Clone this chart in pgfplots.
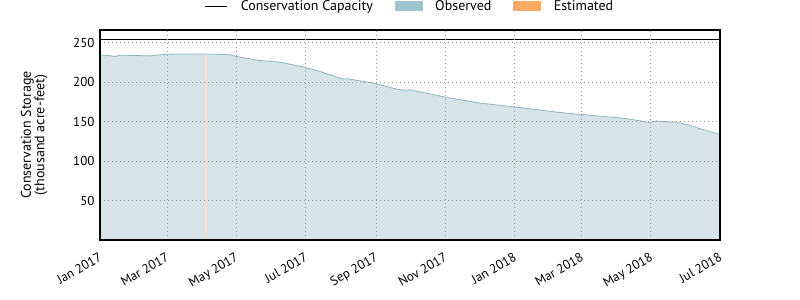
\documentclass[border=0pt]{standalone}
\usepackage{pgfplots}
\pgfplotsset{compat=1.18}
\usepackage{fontspec}
\setmainfont{PT Sans}
\definecolor{obsfill}{RGB}{214,228,232}
\definecolor{obsline}{RGB}{145,180,188}
\definecolor{obsleg}{RGB}{155,196,204}
\definecolor{estleg}{RGB}{255,170,100}
\definecolor{estfill}{RGB}{245,224,206}
\definecolor{gridc}{RGB}{150,160,165}
\begin{document}
\fontsize{13bp}{15bp}\selectfont
\begin{tikzpicture}
\useasboundingbox (0,0) rectangle (800bp,300bp);
\begin{axis}[
  at={(100bp,60bp)}, anchor=south west,
  scale only axis, width=620bp, height=210bp,
  xmin=0, xmax=546, ymin=0, ymax=266,
  xtick={0,59,120,181,243,304,365,424,485,546},
  xticklabels={Jan 2017,Mar 2017,May 2017,Jul 2017,Sep 2017,Nov 2017,Jan 2018,Mar 2018,May 2018,Jul 2018},
  ytick={50,100,150,200,250},
  major tick length=0pt,
  /pgf/number format/assume math mode=true,
  x tick label style={rotate=30, anchor=north east, font=\fontsize{13bp}{15bp}\selectfont, xshift=-3bp, yshift=-5bp},
  y tick label style={font=\fontsize{13bp}{15bp}\selectfont, xshift=-1bp},
  grid=major,
  grid style={gridc, line width=0.8bp, dash pattern=on 1bp off 3bp},
  axis line style={black, line width=1.4bp},
  axis on top,
  ylabel={Conservation Storage\\(thousand acre-feet)},
  ylabel style={at={(axis description cs:-0.106,0.5)}, anchor=center, align=center, font=\fontsize{14bp}{13.5bp}\selectfont},
  legend columns=3,
  legend style={at={(axis description cs:0.5,1.114)}, anchor=center, draw=none, fill=none,
    font=\fontsize{14bp}{16bp}\selectfont,
    /tikz/every odd column/.append style={column sep=11bp},
    /tikz/every even column/.append style={column sep=20bp}},
]
\addlegendimage{legend image code/.code={\draw[black, line width=1bp] (0bp,0bp) -- (22bp,0bp);}}
\addlegendentry{Conservation Capacity}
\addlegendimage{legend image code/.code={\fill[obsleg] (0bp,-4.5bp) rectangle (27bp,4.5bp);}}
\addlegendentry{Observed}
\addlegendimage{legend image code/.code={\fill[estleg] (0bp,-4.5bp) rectangle (27bp,4.5bp);}}
\addlegendentry{Estimated}

\addplot[forget plot, fill=obsfill, draw=obsline, line width=0.8bp] coordinates {
(0,234.5) (8,233.5) (14,232.5) (17,234) (30,233.8) (44,233.2) (59,235.3) (70,235.7)
(90,235.5) (106,235.2) (115,234.5) (120,232.5) (132,229.4) (141,227.3) (158,225.3)
(168,222.5) (180,218.8) (194,213.4) (214,203.8) (218,204.3) (223,203) (242,198.5)
(260,191.5) (267,189.8) (273,190.2) (279,188.5) (304,181) (335,173.4) (366,168.4)
(405,161.5) (424,159) (452,155.3) (460,154.5) (484,149) (490,150.7) (509,149)
(514,147.3) (546,133.4)
} \closedcycle;
\addplot[forget plot, fill=estfill, draw=none] coordinates {
(92.2,0) (92.2,235.2) (93.8,235.2) (93.8,0)
} -- cycle;
\addplot[forget plot, black, line width=1.2bp] coordinates {(0,253.5) (546,253.5)};
\end{axis}
\end{tikzpicture}
\end{document}
